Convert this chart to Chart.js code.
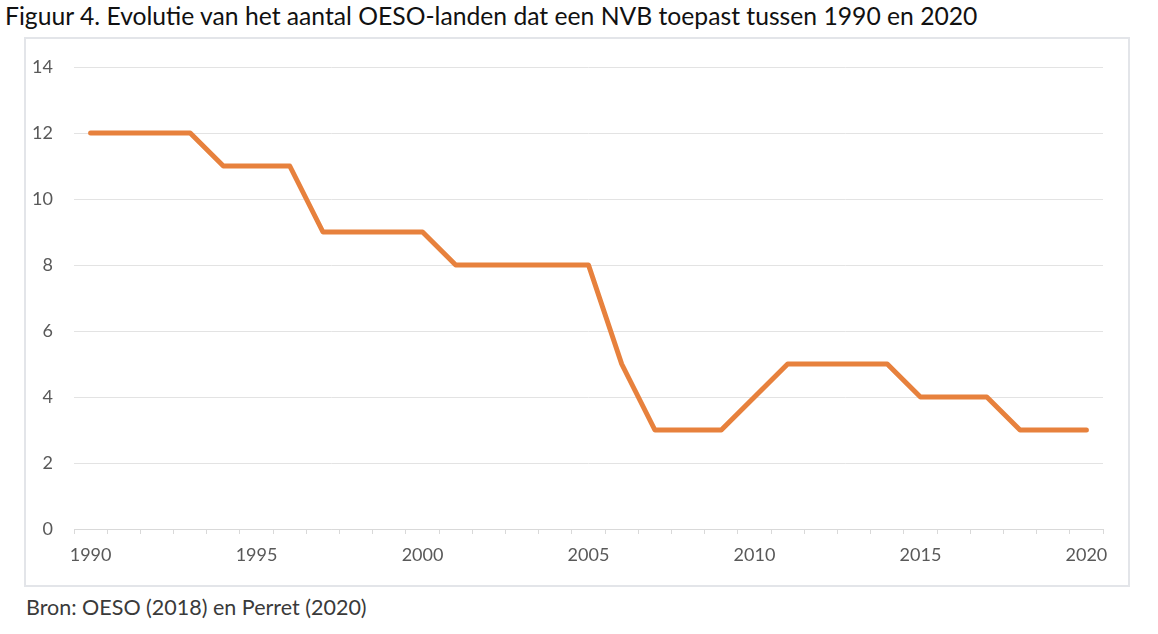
<!DOCTYPE html>
<html>
<head>
<meta charset="utf-8">
<script src="https://cdn.jsdelivr.net/npm/chart.js@4"></script>
<style>
  body { margin: 0; background: #fff; }
  #wrap { position: relative; width: 1158px; height: 634px; overflow: hidden; }
  #title { position: absolute; left: 5px; top: 1px; font-family: Lato, sans-serif; font-size: 24.7px; color: #111; white-space: nowrap; }
  #frame { position: absolute; left: 24px; top: 37px; width: 1102px; height: 546px; border: 2px solid #e3e5e9; }
  #source { position: absolute; left: 26px; top: 594px; font-family: Lato, sans-serif; font-size: 21.5px; color: #3a3a3a; white-space: nowrap; }
  #chart { position: absolute; left: 0; top: 0; }
</style>
</head>
<body>
<div id="wrap">
  <div id="title">Figuur 4. Evolutie van het aantal OESO-landen dat een NVB toepast tussen 1990 en 2020</div>
  <div id="frame"></div>
  <div id="source">Bron: OESO (2018) en Perret (2020)</div>
  <canvas id="chart" width="1158" height="634"></canvas>
</div>
<script>
// jaren en aantal landen
const jaren = ['1990','1991','1992','1993','1994','1995','1996','1997','1998','1999',
               '2000','2001','2002','2003','2004','2005','2006','2007','2008','2009',
               '2010','2011','2012','2013','2014','2015','2016','2017','2018','2019','2020'];
const aantalLanden = [12,12,12,12,11,11,11,9,9,9,
                      9,8,8,8,8,8,5,3,3,3,
                      4,5,5,5,5,4,4,4,3,3,3];
const jaarLabels = ['1990','1995','2000','2005','2010','2015','2020'];

const fontFam = "Lato, sans-serif";

new Chart(document.getElementById('chart'), {
    type: 'line',
    data: {
        labels: jaren,
        datasets: [{
            data: aantalLanden,
            borderColor: '#e7813d',
            borderWidth: 5,
            borderCapStyle: 'round',
            borderJoinStyle: 'round',
            pointRadius: 0,
            tension: 0,
            fill: false
        }]
    },
    options: {
        responsive: false,
        animation: false,
        layout: { padding: { top: 67, right: 55, bottom: 65, left: 0 } },
        plugins: { legend: { display: false }, tooltip: { enabled: false } },
        scales: {
            x: {
                type: 'category',
                offset: true,
                grid: { offset: true, drawOnChartArea: false, drawTicks: true, tickLength: 5, color: '#d9d9d9' },
                border: { color: '#d9d9d9', width: 1 },
                ticks: {
                    autoSkip: false,
                    maxRotation: 0,
                    padding: 10,
                    color: '#595959',
                    font: { family: fontFam, size: 18 },
                    callback: function(val) {
                        const l = this.getLabelForValue(val);
                        return jaarLabels.includes(l) ? l : '';
                    }
                },
                afterFit: function(scale) { scale.height = 40; }
            },
            y: {
                min: 0,
                max: 14,
                grid: { drawTicks: false, color: '#e3e3e3' },
                border: { display: false },
                ticks: {
                    stepSize: 2,
                    padding: 21,
                    color: '#595959',
                    font: { family: fontFam, size: 18 }
                },
                afterFit: function(scale) { scale.width = 74; }
            }
        }
    }
});
</script>
</body>
</html>
